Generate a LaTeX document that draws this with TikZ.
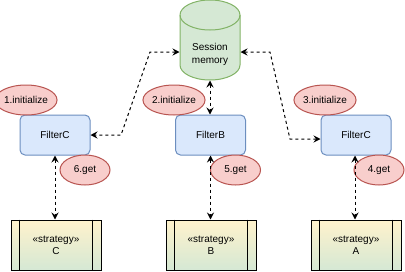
\documentclass[tikz,border=0pt]{standalone}
\usepackage{fontspec}
\setmainfont{Liberation Sans}
\usetikzlibrary{arrows.meta,shapes.geometric}

\definecolor{filterfill}{HTML}{DAE8FC}
\definecolor{filterline}{HTML}{6C8EBF}
\definecolor{stepfill}{HTML}{F8CECC}
\definecolor{stepline}{HTML}{B85450}
\definecolor{memfill}{HTML}{D5E8D4}
\definecolor{memline}{HTML}{82B366}
\definecolor{stratTop}{HTML}{FFF2CC}
\definecolor{stratBot}{HTML}{D5E8D4}

\tikzset{
  base/.style={font=\fontsize{10}{12}\selectfont, line width=1pt, inner sep=0pt, align=center},
  filterbox/.style={base, rectangle, rounded corners=5pt, draw=filterline, fill=filterfill,
    minimum width=70pt, minimum height=40pt},
  stepmark/.style={base, ellipse, draw=stepline, fill=stepfill,
    minimum width=48pt, minimum height=30pt},
  getmark/.style={stepmark, minimum width=50pt},
  strategybox/.style={base, rectangle, draw=black, top color=stratTop, bottom color=stratBot,
    minimum width=90pt, minimum height=50pt,
    append after command={
      \pgfextra{\let\lastnode\tikzlastnode}
      ([xshift=9pt]\lastnode.north west) edge[draw=black, line width=1pt] ([xshift=9pt]\lastnode.south west)
      ([xshift=-9pt]\lastnode.north east) edge[draw=black, line width=1pt] ([xshift=-9pt]\lastnode.south east)
    }},
  conn/.style={draw=black, line width=1pt, dash pattern=on 3pt off 3pt,
    {Stealth[length=7pt,width=7pt,inset=2.5pt]}-{Stealth[length=7pt,width=7pt,inset=2.5pt]}},
}

\begin{document}
\begin{tikzpicture}[x=1pt, y=-1pt]
  \useasboundingbox (0,0) rectangle (405,271);

  % shared session store, drawn as a cylinder
  \filldraw[fill=memfill, draw=memline, line width=1pt]
    (180,15) -- (180,65) arc[start angle=180, end angle=360, x radius=30, y radius=-15]
    -- (240,15) arc[start angle=0, end angle=180, x radius=30, y radius=-15] -- cycle;
  \draw[memline, line width=1pt]
    (180,15) arc[start angle=180, end angle=360, x radius=30, y radius=-15];
  \node[base, minimum width=60pt, minimum height=80pt] (mem) at (210,40) {};
  \node[base] (memtext) at (210,54) {Session\\[1pt]memory};

  % filters
  \node[filterbox] (fc1) at (55,135) {FilterC};
  \node[filterbox] (fb)  at (210.5,135) {FilterB};
  \node[filterbox] (fc3) at (356,135) {FilterC};

  % call order labels
  \node[stepmark] (i1) at (26,100)  {1.initialize};
  \node[stepmark] (i2) at (174,100) {2.initialize};
  \node[stepmark] (i3) at (325,100) {3.initialize};
  \node[getmark]  (g6) at (85,170)  {6.get};
  \node[getmark]  (g5) at (235.5,170) {5.get};
  \node[getmark]  (g4) at (379,170) {4.get};

  % strategies
  \node[strategybox] (sc) at (56,245)  {«strategy»\\C};
  \node[strategybox] (sb) at (211,245) {«strategy»\\B};
  \node[strategybox] (sa) at (356,245) {«strategy»\\A};

  % connectors
  \draw[conn] ([yshift=-12pt]mem.west) -- (150,52) -- (121,135) -- (fc1.east);
  \draw[conn] ([yshift=-12pt]mem.east) -- (270,52) -- (290,139) -- ([yshift=-4pt]fc3.west);
  \draw[conn] (mem.south) -- (mem.south |- fb.north);
  \draw[conn] (fc1.south) -- (fc1.south |- sc.north);
  \draw[conn] (fb.south) -- (fb.south |- sb.north);
  \draw[conn] ([xshift=-1pt]fc3.south) -- ([xshift=-1pt]fc3.south |- sa.north);
\end{tikzpicture}
\end{document}
